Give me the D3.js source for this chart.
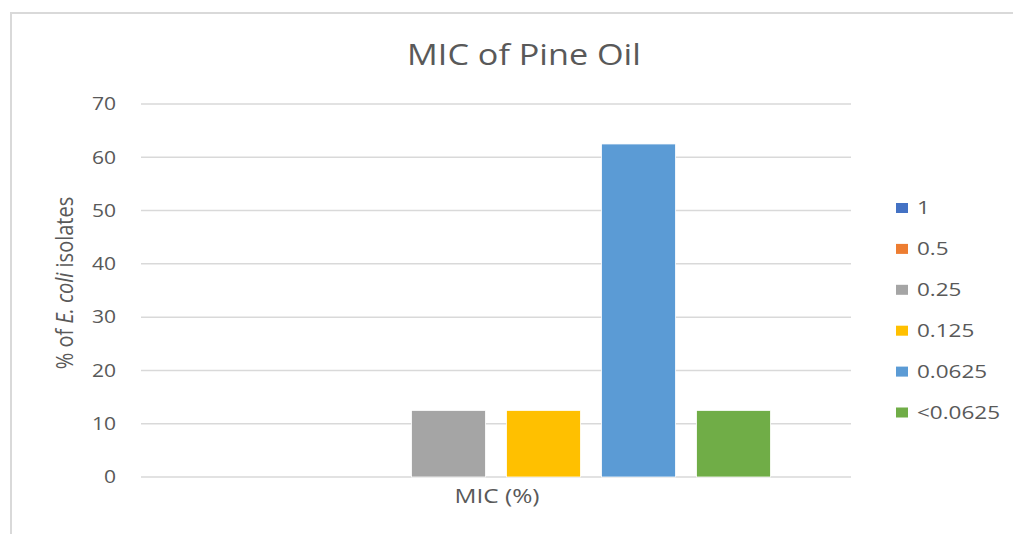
<!DOCTYPE html>
<html lang="en">
<head>
  <meta charset="utf-8">
  <title>MIC of Pine Oil</title>
  <style>
    body { margin: 0; background: #fff; }
    svg { font-family: "Open Sans", sans-serif; }
  </style>
</head>
<body>
  <div id="chart"></div>
  <script src="https://d3js.org/d3.v7.min.js"></script>
  <script>
const categories = ["MIC (%)"];
const series = ["1", "0.5", "0.25", "0.125", "0.0625", "<0.0625"];
const values = [0, 0, 12.5, 12.5, 62.5, 12.5];
const colors = ["#4472C4", "#ED7D31", "#A5A5A5", "#FFC000", "#5B9BD5", "#70AD47"];
const yTicks = [0, 10, 20, 30, 40, 50, 60, 70];

const width = 1013, height = 534;
const plot = { left: 141, right: 851, top: 104, bottom: 477 };
const textColor = "#595959";

const svg = d3.select("#chart").append("svg")
    .attr("width", width)
    .attr("height", height);

// chart frame
svg.append("path")
    .attr("d", `M11,${height} V13 H${width}`)
    .attr("fill", "none")
    .attr("stroke", "#d9d9d9")
    .attr("stroke-width", 2);

const y = d3.scaleLinear().domain([0, 70]).range([plot.bottom, plot.top]);

const x0 = d3.scaleBand().domain(categories)
    .range([plot.left, plot.right])
    .paddingOuter(0.1466);

const x1 = d3.scaleBand().domain(series)
    .range([0, x0.bandwidth()])
    .paddingInner(0.221);

// gridlines
svg.append("g")
    .selectAll("line")
    .data(yTicks)
    .join("line")
    .attr("x1", plot.left)
    .attr("x2", plot.right)
    .attr("y1", d => y(d))
    .attr("y2", d => y(d))
    .attr("stroke", "#d9d9d9")
    .attr("stroke-width", 1.5);

// y tick labels (slightly widened to match the original's wider face)
svg.append("g")
    .selectAll("text")
    .data(yTicks)
    .join("text")
    .attr("transform", d => `translate(116,${y(d)}) scale(1.17,1)`)
    .attr("dy", "0.35em")
    .attr("text-anchor", "end")
    .attr("fill", textColor)
    .style("font-size", "18px")
    .text(d => d);

// bars
const rows = series.map((s, i) => ({ name: s, value: values[i], color: colors[i] }));
categories.forEach(cat => {
    svg.append("g")
        .attr("transform", `translate(${x0(cat)},0)`)
        .selectAll("rect")
        .data(rows.filter(d => d.value > 0))
        .join("rect")
        .attr("x", d => x1(d.name))
        .attr("width", x1.bandwidth())
        .attr("y", d => y(d.value))
        .attr("height", d => y(0) - y(d.value))
        .attr("fill", d => d.color)
        .attr("stroke", "#fff")
        .attr("stroke-width", 0.8);

    svg.append("text")
        .attr("transform", `translate(497,503) scale(1.22,1)`)
        .attr("text-anchor", "middle")
        .attr("fill", textColor)
        .style("font-size", "20px")
        .text(cat);
});

// title
svg.append("text")
    .attr("transform", "translate(524,65) scale(1.14,1)")
    .attr("text-anchor", "middle")
    .attr("fill", textColor)
    .style("font-size", "30px")
    .text("MIC of Pine Oil");

// y axis title, widened on screen x like the rest of the text
const yt = svg.append("text")
    .attr("transform", "translate(73,283) scale(1.2,1) rotate(-90)")
    .attr("text-anchor", "middle")
    .attr("fill", textColor)
    .style("font-size", "20px");
yt.append("tspan").text("% of ");
yt.append("tspan").style("font-style", "italic").text("E. coli");
yt.append("tspan").text(" isolates");

// legend
const legend = svg.append("g")
    .selectAll("g")
    .data(rows)
    .join("g")
    .attr("transform", (d, i) => `translate(896,${208 + i * 40.9})`);
legend.append("rect")
    .attr("x", 0).attr("y", -5)
    .attr("width", 12).attr("height", 10)
    .attr("fill", d => d.color);
legend.append("text")
    .attr("transform", "translate(21,0) scale(1.25,1)")
    .attr("dy", "0.35em")
    .attr("fill", textColor)
    .style("font-size", "18px")
    .text(d => d.name);
  </script>
</body>
</html>
